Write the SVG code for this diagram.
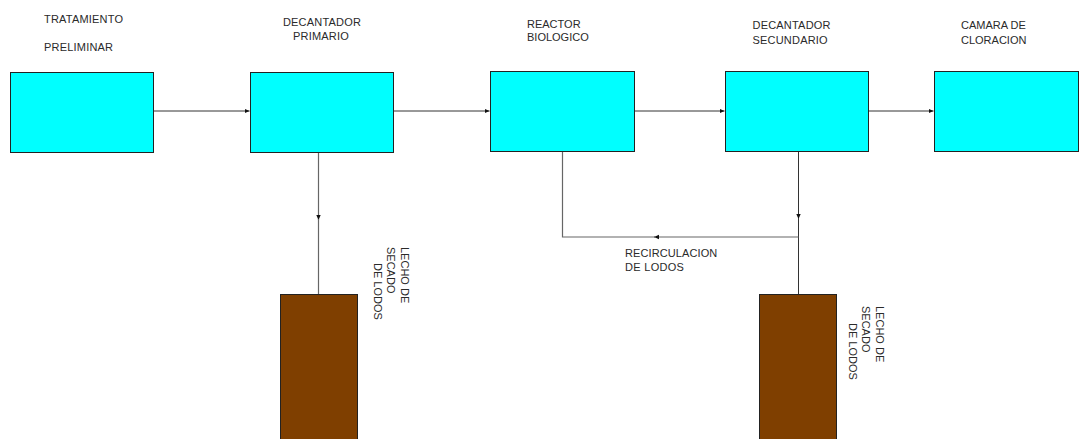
<svg xmlns="http://www.w3.org/2000/svg" width="1079" height="439" viewBox="0 0 1079 439">
<style>
.proc{fill:#00ffff;stroke:#222;stroke-width:1}
.bed{fill:#7f3f00;stroke:#222;stroke-width:1}
.lbl{font-family:"Liberation Sans",Arial,sans-serif;font-size:11px;fill:#2a2a2a}
.ln{fill:none;stroke:#333;stroke-width:1}
.lg{fill:none;stroke:#666;stroke-width:1.2}
</style>
<defs>
<marker id="ah" markerWidth="6" markerHeight="6" refX="5" refY="3" orient="auto" markerUnits="userSpaceOnUse">
<path d="M0,0.8 L5,3 L0,5.2 Z" fill="#111"/>
</marker>
</defs>
<rect width="1079" height="439" fill="#fff"/>
<g id="connectors">
<path class="ln" d="M153.5 111 H249.5" marker-end="url(#ah)"/>
<path class="ln" d="M393.5 111 H489.5" marker-end="url(#ah)"/>
<path class="ln" d="M634.5 111 H724.5" marker-end="url(#ah)"/>
<path class="ln" d="M868.5 111 H933.5" marker-end="url(#ah)"/>
<path class="lg" d="M318.5 152 V220" marker-end="url(#ah)"/>
<path class="lg" d="M318.5 219 V294"/>
<path class="ln" d="M798.5 151 V219" marker-end="url(#ah)"/>
<path class="ln" d="M798.5 218 V294"/>
<path class="lg" d="M798.5 237 H654" marker-end="url(#ah)"/>
<path class="lg" d="M656 237 H562.5 V151"/>
</g>
<g id="tratamiento-preliminar">
<rect class="proc" x="10.5" y="72.5" width="143" height="80"/>
<text class="lbl" x="44" y="23" letter-spacing="0.2">TRATAMIENTO</text>
<text class="lbl" x="44" y="51" letter-spacing="0.2">PRELIMINAR</text>
</g>
<g id="decantador-primario">
<rect class="proc" x="250.5" y="72.5" width="143" height="80"/>
<text class="lbl" x="322" y="26" text-anchor="middle" letter-spacing="0.2">DECANTADOR</text>
<text class="lbl" x="321" y="40" text-anchor="middle" letter-spacing="0.2">PRIMARIO</text>
</g>
<g id="reactor-biologico">
<rect class="proc" x="490.5" y="71.5" width="144" height="80"/>
<text class="lbl" x="527" y="28">REACTOR</text>
<text class="lbl" x="527" y="41">BIOLOGICO</text>
</g>
<g id="decantador-secundario">
<rect class="proc" x="725.5" y="71.5" width="143" height="80"/>
<text class="lbl" x="752.5" y="29" letter-spacing="0.2">DECANTADOR</text>
<text class="lbl" x="752.5" y="44" letter-spacing="0.2">SECUNDARIO</text>
</g>
<g id="camara-cloracion">
<rect class="proc" x="934.5" y="71.5" width="144" height="80"/>
<text class="lbl" x="961" y="29">CAMARA DE</text>
<text class="lbl" x="961" y="44">CLORACION</text>
</g>
<g id="recirculacion-label">
<text class="lbl" x="625" y="257" letter-spacing="0.1">RECIRCULACION</text>
<text class="lbl" x="625" y="271" letter-spacing="0.3">DE LODOS</text>
</g>
<g id="lecho-secado-1">
<rect class="bed" x="280.5" y="294.5" width="77" height="150"/>
<text class="lbl" transform="translate(400.5,247) rotate(90)">LECHO DE</text>
<text class="lbl" transform="translate(386.5,247) rotate(90)">SECADO</text>
<text class="lbl" transform="translate(373.5,263) rotate(90)">DE LODOS</text>
</g>
<g id="lecho-secado-2">
<rect class="bed" x="759.5" y="294.5" width="77" height="150"/>
<text class="lbl" transform="translate(876,306) rotate(90)">LECHO DE</text>
<text class="lbl" transform="translate(861.5,306) rotate(90)">SECADO</text>
<text class="lbl" transform="translate(848.5,323) rotate(90)">DE LODOS</text>
</g>
</svg>
